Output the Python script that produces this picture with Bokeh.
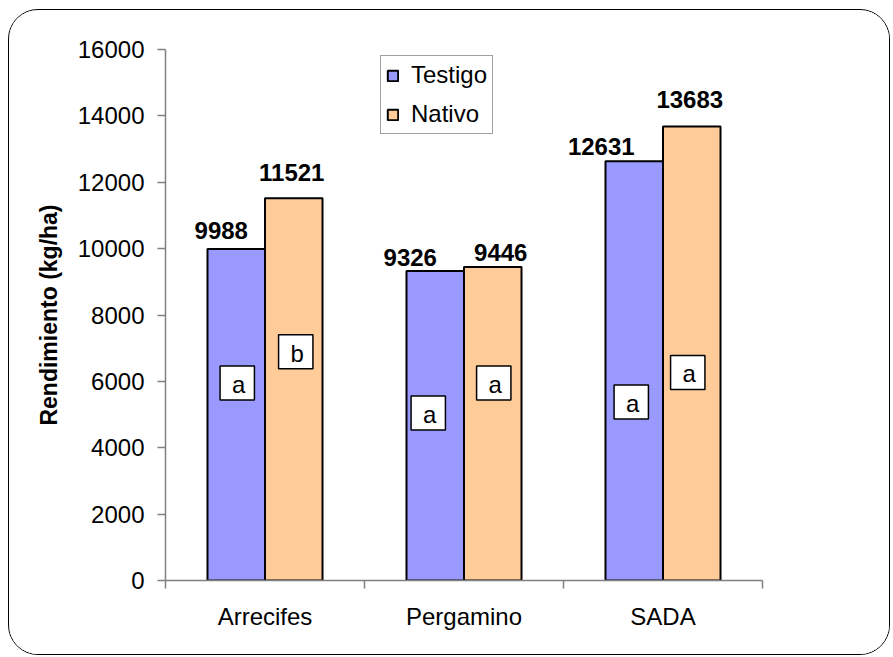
from bokeh.plotting import figure
from bokeh.models import (ColumnDataSource, FactorRange, Range1d, LinearAxis,
                          CategoricalAxis, FixedTicker, Legend, LegendItem)
from bokeh.transform import dodge
from bokeh.core.properties import value
from bokeh.embed import file_html
from bokeh.resources import INLINE

# ---- data ----
sites = ["Arrecifes", "Pergamino", "SADA"]
testigo = [9988, 9326, 12631]
nativo = [11521, 9446, 13683]
testigo_letters = ["a", "a", "a"]
nativo_letters = ["b", "a", "a"]
testigo_letter_y = [5950, 5050, 5380]
nativo_letter_y = [6890, 5950, 6270]
y_ticks = [0, 2000, 4000, 6000, 8000, 10000, 12000, 14000, 16000]
y_title = "Rendimiento (kg/ha)"

# ---- styling (label nudges, screen px) ----
testigo_dx = [-15, -25, -33]
nativo_dx = [-2, 8, -2]
testigo_dy = [-19, -13, -15]
nativo_dy = [-26, -15, -27]
testigo_ldx = [1, -7, -3]
nativo_ldx = [2, 1, -4]

FONT = "Liberation Sans"
C_T = "#9999FF"
C_N = "#FFCC99"
AX = "#808080"

src = ColumnDataSource(dict(
    site=sites, testigo=testigo, nativo=nativo,
    t_lab=[str(v) for v in testigo], n_lab=[str(v) for v in nativo],
    t_let=testigo_letters, n_let=nativo_letters,
    t_ly=testigo_letter_y, n_ly=nativo_letter_y,
    t_dx=testigo_dx, n_dx=nativo_dx, t_dy=testigo_dy, n_dy=nativo_dy,
    t_ldx=testigo_ldx, n_ldx=nativo_ldx,
))

p = figure(x_range=FactorRange(*sites), y_range=Range1d(0, 16000),
           width=882, height=646, output_backend="svg", toolbar_location=None,
           x_axis_location=None, min_border_left=156, min_border_right=129,
           min_border_top=39, min_border_bottom=76)
p.xgrid.visible = False
p.ygrid.visible = False
p.outline_line_color = None
p.styles = {"border": "1px solid black", "border-radius": "30px", "overflow": "hidden",
            "margin-left": "8px", "margin-top": "9px"}

W = 0.289
off = W / 2
r_t = p.vbar(x=dodge("site", -off, range=p.x_range), top="testigo", width=W, source=src,
             fill_color=C_T, line_color="black", line_width=2)
r_n = p.vbar(x=dodge("site", off, range=p.x_range), top="nativo", width=W, source=src,
             fill_color=C_N, line_color="black", line_width=2)

# value labels
p.text(x=dodge("site", -off, range=p.x_range), y="testigo", text="t_lab", source=src,
       x_offset="t_dx", y_offset="t_dy", text_align="center", text_baseline="alphabetic",
       text_font=value(FONT), text_font_style="bold", text_font_size="24px", text_color="black")
p.text(x=dodge("site", off, range=p.x_range), y="nativo", text="n_lab", source=src,
       x_offset="n_dx", y_offset="n_dy", text_align="center", text_baseline="alphabetic",
       text_font=value(FONT), text_font_style="bold", text_font_size="24px", text_color="black")

# letter boxes
for col, ycol, dxcol, sgn in (("t_let", "t_ly", "t_ldx", -1), ("n_let", "n_ly", "n_ldx", 1)):
    p.text(x=dodge("site", sgn * off, range=p.x_range), y=ycol, text=col, source=src,
           x_offset=dxcol, text_align="center", text_baseline="middle",
           text_font=value(FONT), text_font_size="24px", text_color="black",
           background_fill_color="white", border_line_color="black", border_line_width=1.5,
           padding=(12, 9, 5, 2))

# y axis
ya = p.yaxis[0]
ya.ticker = FixedTicker(ticks=y_ticks, minor_ticks=[])
ya.axis_line_color = AX
ya.axis_line_width = 1.5
ya.major_tick_line_color = AX
ya.major_tick_line_width = 1.5
ya.major_tick_out = 8
ya.major_tick_in = 0
ya.minor_tick_line_color = None
ya.major_label_text_font = FONT
ya.major_label_text_font_size = "24px"
ya.major_label_text_color = "black"
ya.major_label_standoff = 13
ya.axis_label = y_title
ya.axis_label_text_font = FONT
ya.axis_label_text_font_size = "23px"
ya.axis_label_text_font_style = "bold"
ya.axis_label_text_color = "black"
ya.axis_label_standoff = 13

# x axes: boundary ticks (between categories) + category labels
bounds = list(range(len(sites) + 1))
bx = LinearAxis(ticker=FixedTicker(ticks=bounds, minor_ticks=[]),
                major_label_overrides={b: "" for b in bounds},
                major_label_text_font_size="2px", major_label_standoff=0,
                major_tick_out=8, major_tick_in=0, minor_tick_line_color=None,
                axis_line_color=AX, axis_line_width=1.5,
                major_tick_line_color=AX, major_tick_line_width=1.5)
p.add_layout(bx, "below")
cx = CategoricalAxis(major_tick_line_color=None, axis_line_color=None,
                     major_label_text_font=FONT, major_label_text_font_size="24px",
                     major_label_text_color="black", major_label_standoff=8)
p.add_layout(cx, "below")

legend = Legend(items=[LegendItem(label="Testigo", renderers=[r_t]),
                       LegendItem(label="Nativo", renderers=[r_n])],
                location=(215, 446), orientation="vertical",
                label_text_font=FONT, label_text_font_size="24px", label_text_color="black",
                glyph_width=13, glyph_height=13, label_height=28, label_standoff=12,
                spacing=11, padding=5, margin=0,
                border_line_color="#404040", border_line_width=1.5,
                background_fill_color="white", background_fill_alpha=1)
p.add_layout(legend)

open("out.html", "w").write(file_html(p, INLINE))
